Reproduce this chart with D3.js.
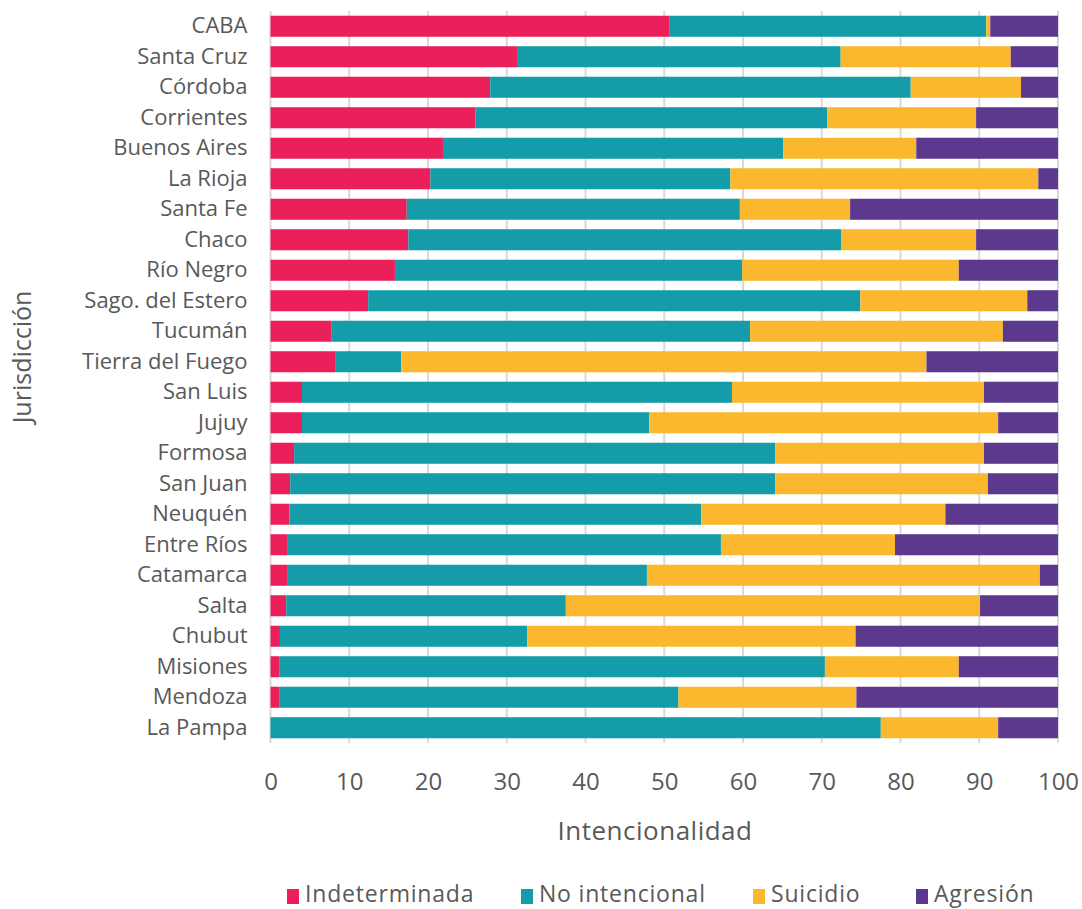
<!DOCTYPE html>
<html>
<head>
<meta charset="utf-8">
<script src="https://cdn.jsdelivr.net/npm/d3@7"></script>
<style>
  html, body { margin: 0; padding: 0; background: #ffffff; }
  svg { display: block; }
  text { font-family: "Open Sans", "Lato", sans-serif; fill: #595959; }
</style>
</head>
<body>
<svg id="chart" width="1082" height="909"></svg>
<script>
const categories = ["CABA","Santa Cruz","Córdoba","Corrientes","Buenos Aires","La Rioja","Santa Fe","Chaco","Río Negro","Sago. del Estero","Tucumán","Tierra del Fuego","San Luis","Jujuy","Formosa","San Juan","Neuquén","Entre Ríos","Catamarca","Salta","Chubut","Misiones","Mendoza","La Pampa"];
const indeterminada = [50.7,31.3,27.9,26.0,21.9,20.3,17.3,17.5,15.8,12.4,7.7,8.2,4.0,4.0,3.0,2.5,2.4,2.2,2.2,2.0,1.2,1.1,1.1,0.0];
const noIntencional = [40.2,41.1,53.4,44.7,43.2,38.1,42.3,55.0,44.1,62.5,53.2,8.4,54.6,44.1,61.1,61.6,52.3,55.0,45.6,35.5,31.4,69.3,50.7,77.5];
const suicidio      = [0.5,21.6,14.0,18.9,16.9,39.1,14.0,17.1,27.5,21.2,32.1,66.7,32.0,44.3,26.5,27.0,31.0,22.1,49.9,52.6,41.7,17.0,22.6,14.9];
const agresion      = [8.6,6.0,4.7,10.4,18.0,2.5,26.4,10.4,12.6,3.9,7.0,16.7,9.4,7.6,9.4,8.9,14.3,20.7,2.3,9.9,25.7,12.6,25.6,7.6];
const seriesNames = ["Indeterminada","No intencional","Suicidio","Agresión"];
const seriesColors = ["#EB1F5A","#149DA8","#FBB82E","#5C398D"];
const xTicks = [0,10,20,30,40,50,60,70,80,90,100];
const xTitle = "Intencionalidad";
const yTitle = "Jurisdicción";

const seriesValues = [indeterminada, noIntencional, suicidio, agresion];
const rows = categories.map((c, i) => {
  const r = { cat: c };
  seriesNames.forEach((s, j) => r[s] = seriesValues[j][i]);
  return r;
});

const svg = d3.select("#chart");
const margin = { left: 270.5, right: 1058, top: 11, bottom: 743 };

const x = d3.scaleLinear().domain([0, 100]).range([margin.left, margin.right]);
const y = d3.scaleBand().domain(categories).range([margin.top, margin.bottom]).paddingInner(0.31).paddingOuter(0.155);

// gridlines
svg.append("g")
  .selectAll("line")
  .data(xTicks)
  .join("line")
  .attr("x1", d => x(d)).attr("x2", d => x(d))
  .attr("y1", margin.top).attr("y2", margin.bottom)
  .attr("stroke", "#d9d9d9").attr("stroke-width", 2);

const stack = d3.stack().keys(seriesNames);
const stacked = stack(rows);

svg.append("g")
  .selectAll("g")
  .data(stacked)
  .join("g")
  .attr("fill", (d, i) => seriesColors[i])
  .selectAll("rect")
  .data(d => d)
  .join("rect")
  .attr("x", d => x(d[0]))
  .attr("width", d => Math.max(0, x(d[1]) - x(d[0])))
  .attr("y", d => y(d.data.cat))
  .attr("height", y.bandwidth());

// x axis tick labels
const xAxis = d3.axisBottom(x).tickValues(xTicks).tickSize(0).tickPadding(0);
const gx = svg.append("g").attr("transform", `translate(0, ${margin.bottom + 47})`).call(xAxis);
gx.select(".domain").remove();
gx.selectAll("text").attr("font-size", 24).attr("dy", "0").attr("font-family", null).style("fill", "#595959");

// y axis category labels
const yAxis = d3.axisLeft(y).tickSize(0).tickPadding(23);
const gy = svg.append("g").attr("transform", `translate(${margin.left}, 0)`).call(yAxis);
gy.select(".domain").remove();
gy.selectAll("text").attr("font-size", 22).attr("font-family", null).style("fill", "#595959");

// axis titles
svg.append("text")
  .attr("x", 655)
  .attr("y", 840)
  .attr("text-anchor", "middle")
  .attr("font-size", 26)
  .attr("letter-spacing", 0.5)
  .text(xTitle);

svg.append("text")
  .attr("transform", `translate(31, ${(margin.top + margin.bottom) / 2 - 20}) rotate(-90)`)
  .attr("text-anchor", "middle")
  .attr("font-size", 25)
  .text(yTitle);

// legend
const legendX = [287, 521, 753, 916];
const lg = svg.append("g");
seriesNames.forEach((s, i) => {
  lg.append("rect").attr("x", legendX[i]).attr("y", 889).attr("width", 12).attr("height", 15).attr("fill", seriesColors[i]);
  lg.append("text").attr("x", legendX[i] + 18).attr("y", 902).attr("font-size", 23).attr("letter-spacing", 0.8).text(s);
});
</script>
</body>
</html>
